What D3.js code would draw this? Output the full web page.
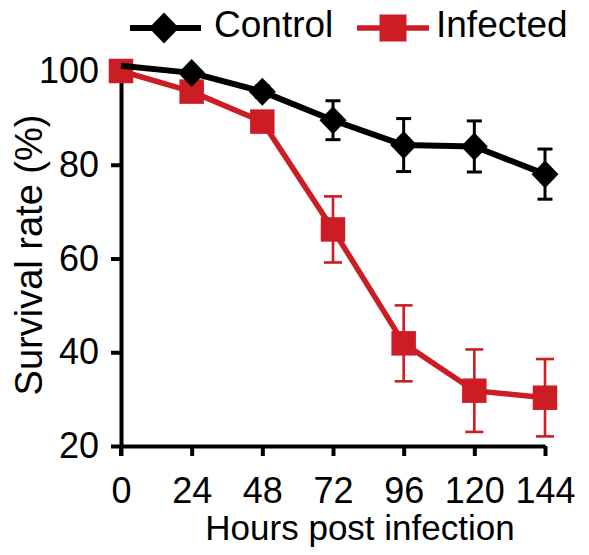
<!DOCTYPE html>
<html>
<head>
<meta charset="utf-8">
<script src="https://cdn.jsdelivr.net/npm/d3@7"></script>
<style>
  html, body { margin: 0; padding: 0; background: #fff; }
  svg { display: block; }
  text { font-family: "Liberation Sans", Arial, Helvetica, sans-serif; fill: #000; }
</style>
</head>
<body>
<svg id="chart" width="589" height="555"></svg>
<script>
// ---- data ----
const hours = [0, 24, 48, 72, 96, 120, 144];
const controlMean = [101.1, 99.6, 95.6, 89.5, 84.2, 83.9, 78.0];
const controlErr  = [0, 0.8, 1.2, 4.15, 5.65, 5.45, 5.35];
const infectedMean = [100.0, 95.6, 89.2, 66.2, 41.9, 31.8, 30.3];
const infectedErr  = [0, 1.0, 1.5, 7.05, 8.1, 8.8, 8.25];
const yTicks = [20, 40, 60, 80, 100];
const seriesNames = ["Control", "Infected"];

const RED = "#cc1c24";
const BLACK = "#000";

const svg = d3.select("#chart");
const x = d3.scaleLinear().domain([0, 144]).range([121, 545]);
const y = d3.scaleLinear().domain([20, 100]).range([446, 71]);

// axes
const yAxis = d3.axisLeft(y).tickValues(yTicks).tickSize(10).tickSizeOuter(0).tickPadding(12);
const xAxis = d3.axisBottom(x).tickValues(hours).tickSize(10).tickSizeOuter(0).tickPadding(21);

const gy = svg.append("g").attr("transform", `translate(${x(0)},0)`).call(yAxis);
const gx = svg.append("g").attr("transform", `translate(0,${y(20)})`).call(xAxis);
[gy, gx].forEach(g => {
  g.select(".domain").attr("stroke", BLACK).attr("stroke-width", 4);
  g.selectAll(".tick line").attr("stroke", BLACK).attr("stroke-width", 4);
  g.selectAll(".tick text").attr("font-size", 36).attr("fill", BLACK)
    .style("font-family", "'Liberation Sans', Arial, sans-serif");
});
svg.append("line").attr("x1", x(0)).attr("x2", x(0)).attr("y1", y(20)).attr("y2", y(20) + 10)
  .attr("stroke", BLACK).attr("stroke-width", 4);

// axis titles
svg.append("text").attr("x", 360).attr("y", 540).attr("text-anchor", "middle")
  .attr("font-size", 35).text("Hours post infection");
svg.append("text").attr("transform", "translate(42,255) rotate(-90)")
  .attr("text-anchor", "middle").attr("font-size", 38).text("Survival rate (%)");

const line = d3.line().x((d, i) => x(hours[i])).y(d => y(d));

function diamondPath(hw, hh) {
  return `M0,${-hh}L${hw},0L0,${hh}L${-hw},0Z`;
}

function drawErrors(means, errs, color, capW, errW) {
  const g = svg.append("g");
  means.forEach((m, i) => {
    const e = errs[i];
    if (e <= 0) return;
    const cx = x(hours[i]);
    g.append("line").attr("x1", cx).attr("x2", cx).attr("y1", y(m + e)).attr("y2", y(m - e))
      .attr("stroke", color).attr("stroke-width", errW);
    [m + e, m - e].forEach(v => {
      g.append("line").attr("x1", cx - capW / 2).attr("x2", cx + capW / 2)
        .attr("y1", y(v)).attr("y2", y(v)).attr("stroke", color).attr("stroke-width", errW);
    });
  });
}

// Infected: errors, line, squares
drawErrors(infectedMean, infectedErr, RED, 18, 2.6);
svg.append("path").datum(infectedMean).attr("d", line).attr("fill", "none")
  .attr("stroke", RED).attr("stroke-width", 5.5).attr("stroke-linejoin", "round");
svg.append("g").selectAll("path").data(infectedMean).join("path")
  .attr("d", d3.symbol().type(d3.symbolSquare).size(600)())
  .attr("fill", RED)
  .attr("transform", (d, i) => `translate(${x(hours[i])},${y(d)})`);

// Control: errors, line, diamonds (first point hidden under the square)
drawErrors(controlMean, controlErr, BLACK, 15, 3);
svg.append("path").datum(controlMean).attr("d", line).attr("fill", "none")
  .attr("stroke", BLACK).attr("stroke-width", 6).attr("stroke-linejoin", "round");
svg.append("g").selectAll("path").data(controlMean.slice(1)).join("path")
  .attr("d", diamondPath(13.5, 14))
  .attr("fill", BLACK)
  .attr("transform", (d, i) => `translate(${x(hours[i + 1])},${y(d)})`);

// legend
const lg = svg.append("g");
lg.append("line").attr("x1", 130).attr("x2", 201).attr("y1", 28).attr("y2", 28)
  .attr("stroke", BLACK).attr("stroke-width", 6);
lg.append("path").attr("d", diamondPath(15, 15.5))
  .attr("transform", "translate(164,28)").attr("fill", BLACK);
lg.append("text").attr("x", 214).attr("y", 37).attr("font-size", 37).text(seriesNames[0]);
lg.append("line").attr("x1", 357).attr("x2", 429).attr("y1", 28).attr("y2", 28)
  .attr("stroke", RED).attr("stroke-width", 5.5);
lg.append("path").attr("d", d3.symbol().type(d3.symbolSquare).size(729)())
  .attr("transform", "translate(393,28)").attr("fill", RED);
lg.append("text").attr("x", 436).attr("y", 37).attr("font-size", 37).text(seriesNames[1]);
</script>
</body>
</html>
